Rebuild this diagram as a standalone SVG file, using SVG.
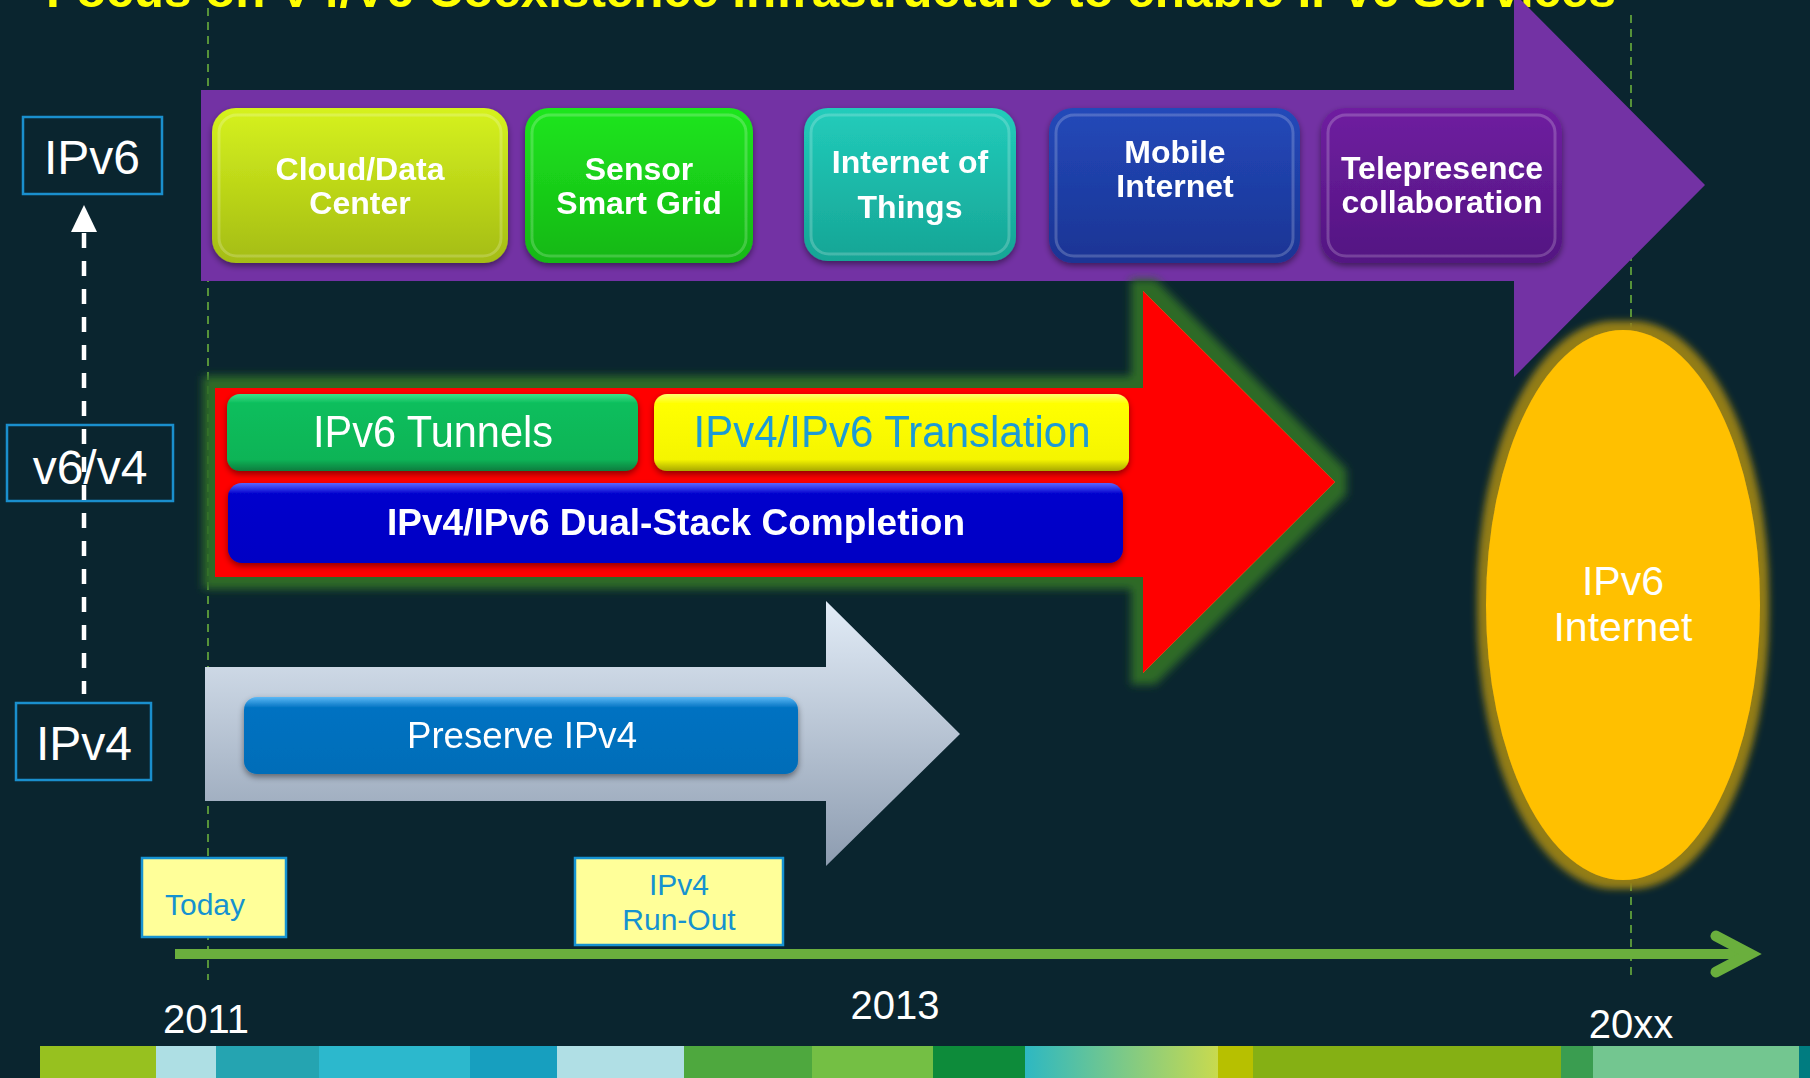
<svg xmlns="http://www.w3.org/2000/svg" width="1810" height="1078" viewBox="0 0 1810 1078">
  <defs>
    <style>
      .sans { font-family: "Liberation Sans", Arial, "DejaVu Sans", sans-serif; }
      .tag { fill: #ffffff; font-size: 32px; font-weight: bold; text-anchor: middle; }
      .lbl { fill: #ffffff; font-size: 48px; text-anchor: middle; }
      .year { fill: #ffffff; font-size: 40px; text-anchor: middle; }
      .note { fill: #1592d0; font-size: 30px; text-anchor: middle; }
      .frame { fill: none; stroke: #1a8fcd; stroke-width: 2.5; }
      .callout { fill: #ffff99; stroke: #1793d1; stroke-width: 2.5; }
      .guide { stroke: #6aaf3d; stroke-width: 1.6; stroke-dasharray: 8 6; fill: none; }
      .gloss { fill: none; stroke: #ffffff; stroke-opacity: 0.2; stroke-width: 3; }
    </style>

    <!-- fills for the rounded service tiles -->
    <linearGradient id="gCloud" x1="0" y1="0" x2="0" y2="1">
      <stop offset="0" stop-color="#d6f21f"/><stop offset="1" stop-color="#a4bc12"/>
    </linearGradient>
    <linearGradient id="gSensor" x1="0" y1="0" x2="0" y2="1">
      <stop offset="0" stop-color="#1fe61f"/><stop offset="1" stop-color="#13b713"/>
    </linearGradient>
    <linearGradient id="gIot" x1="0" y1="0" x2="0" y2="1">
      <stop offset="0" stop-color="#22ccbb"/><stop offset="1" stop-color="#16a595"/>
    </linearGradient>
    <linearGradient id="gMobile" x1="0" y1="0" x2="0" y2="1">
      <stop offset="0" stop-color="#2349b9"/><stop offset="1" stop-color="#1a3494"/>
    </linearGradient>
    <linearGradient id="gTele" x1="0" y1="0" x2="0" y2="1">
      <stop offset="0" stop-color="#6f1fa0"/><stop offset="1" stop-color="#531482"/>
    </linearGradient>
    <linearGradient id="gTunnel" x1="0" y1="0" x2="0" y2="1">
      <stop offset="0" stop-color="#3be08a"/><stop offset="0.12" stop-color="#0cbe5c"/>
      <stop offset="0.85" stop-color="#0bb457"/><stop offset="1" stop-color="#087c3e"/>
    </linearGradient>
    <linearGradient id="gTrans" x1="0" y1="0" x2="0" y2="1">
      <stop offset="0" stop-color="#ffff70"/><stop offset="0.12" stop-color="#ffff00"/>
      <stop offset="0.85" stop-color="#f5f500"/><stop offset="1" stop-color="#a8a800"/>
    </linearGradient>
    <linearGradient id="gDual" x1="0" y1="0" x2="0" y2="1">
      <stop offset="0" stop-color="#5b66ff"/><stop offset="0.14" stop-color="#0000cc"/>
      <stop offset="1" stop-color="#0000c4"/>
    </linearGradient>
    <linearGradient id="gPreserve" x1="0" y1="0" x2="0" y2="1">
      <stop offset="0" stop-color="#5cb8f5"/><stop offset="0.14" stop-color="#0072c2"/>
      <stop offset="1" stop-color="#006db8"/>
    </linearGradient>
    <linearGradient id="gSilver" gradientUnits="userSpaceOnUse" x1="0" y1="601" x2="0" y2="866">
      <stop offset="0" stop-color="#e2ecf7"/><stop offset="1" stop-color="#8d9cb0"/>
    </linearGradient>
    <linearGradient id="gBand" x1="0" y1="0" x2="1" y2="0">
      <stop offset="0" stop-color="#2db8c2"/><stop offset="1" stop-color="#c9da4e"/>
    </linearGradient>

    <filter id="glowGreen" x="-10%" y="-10%" width="120%" height="120%">
      <feMorphology in="SourceAlpha" operator="dilate" radius="12" result="fat"/>
      <feFlood flood-color="#2d6a25"/>
      <feComposite in2="fat" operator="in" result="halo"/>
      <feGaussianBlur in="halo" stdDeviation="4" result="soft"/>
      <feMerge><feMergeNode in="soft"/><feMergeNode in="SourceGraphic"/></feMerge>
    </filter>
    <filter id="glowGold" x="-20%" y="-10%" width="140%" height="120%">
      <feMorphology in="SourceAlpha" operator="dilate" radius="9" result="fat"/>
      <feFlood flood-color="#937d14"/>
      <feComposite in2="fat" operator="in" result="halo"/>
      <feGaussianBlur in="halo" stdDeviation="3.5" result="soft"/>
      <feMerge><feMergeNode in="soft"/><feMergeNode in="SourceGraphic"/></feMerge>
    </filter>
    <filter id="shade" x="-5%" y="-10%" width="110%" height="130%">
      <feDropShadow dx="0" dy="3" stdDeviation="3" flood-color="#000000" flood-opacity="0.45"/>
    </filter>
  </defs>

  <!-- backdrop -->
  <rect x="0" y="0" width="1810" height="1078" fill="#0a252f"/>

  <!-- heading, clipped by the top edge -->
  <text class="sans" x="46" y="7" font-size="48" font-weight="bold" fill="#ffff00" textLength="1570" lengthAdjust="spacingAndGlyphs">Focus on V4/V6 Coexistence Infrastructure to enable IPv6 Services</text>

  <!-- year guide lines -->
  <g id="guides">
    <line class="guide" x1="208" y1="8" x2="208" y2="980"/>
    <line class="guide" x1="1631" y1="15" x2="1631" y2="976"/>
  </g>

  <!-- colour strip along the bottom -->
  <g id="strip">
    <rect x="40" y="1046" width="117" height="32" fill="#97c11f"/>
    <rect x="156" y="1046" width="61" height="32" fill="#aedfe4"/>
    <rect x="216" y="1046" width="104" height="32" fill="#25a4b1"/>
    <rect x="319" y="1046" width="152" height="32" fill="#2cb8cd"/>
    <rect x="470" y="1046" width="88" height="32" fill="#179fbf"/>
    <rect x="557" y="1046" width="128" height="32" fill="#b0dfe5"/>
    <rect x="684" y="1046" width="129" height="32" fill="#4ea83e"/>
    <rect x="812" y="1046" width="122" height="32" fill="#74bf44"/>
    <rect x="933" y="1046" width="93" height="32" fill="#0d8b3a"/>
    <rect x="1025" y="1046" width="194" height="32" fill="url(#gBand)"/>
    <rect x="1218" y="1046" width="36" height="32" fill="#b7c000"/>
    <rect x="1253" y="1046" width="309" height="32" fill="#85b014"/>
    <rect x="1561" y="1046" width="33" height="32" fill="#3a9d50"/>
    <rect x="1593" y="1046" width="207" height="32" fill="#73c690"/>
    <rect x="1799" y="1046" width="11" height="32" fill="#007c80"/>
  </g>

  <!-- IPv6 services band -->
  <g id="band-ipv6">
    <polygon points="201,90 1514,90 1514,-7 1705,185 1514,377 1514,281 201,281" fill="#7332a4"/>
  </g>

  <g id="node-cloud" filter="url(#shade)">
    <rect x="212" y="108" width="296" height="155" rx="24" fill="url(#gCloud)"/>
    <rect x="219" y="115" width="282" height="141" rx="18" class="gloss"/>
    <text class="sans tag" x="360" y="180">Cloud/Data</text>
    <text class="sans tag" x="360" y="214">Center</text>
  </g>
  <g id="node-sensor" filter="url(#shade)">
    <rect x="525" y="108" width="228" height="155" rx="24" fill="url(#gSensor)"/>
    <rect x="532" y="115" width="214" height="141" rx="18" class="gloss"/>
    <text class="sans tag" x="639" y="180">Sensor</text>
    <text class="sans tag" x="639" y="214">Smart Grid</text>
  </g>
  <g id="node-iot" filter="url(#shade)">
    <rect x="804" y="108" width="212" height="153" rx="24" fill="url(#gIot)"/>
    <rect x="811" y="115" width="198" height="139" rx="18" class="gloss"/>
    <text class="sans tag" x="910" y="173">Internet of</text>
    <text class="sans tag" x="910" y="218">Things</text>
  </g>
  <g id="node-mobile" filter="url(#shade)">
    <rect x="1049" y="108" width="251" height="155" rx="24" fill="url(#gMobile)"/>
    <rect x="1056" y="115" width="237" height="141" rx="18" class="gloss"/>
    <text class="sans tag" x="1175" y="163">Mobile</text>
    <text class="sans tag" x="1175" y="197">Internet</text>
  </g>
  <g id="node-telepresence" filter="url(#shade)">
    <rect x="1321" y="108" width="241" height="155" rx="24" fill="url(#gTele)"/>
    <rect x="1328" y="115" width="227" height="141" rx="18" class="gloss"/>
    <text class="sans tag" x="1442" y="179">Telepresence</text>
    <text class="sans tag" x="1442" y="213">collaboration</text>
  </g>

  <!-- coexistence band -->
  <g id="band-coexist">
    <polygon points="215,388 1143,388 1143,291 1335,482 1143,673 1143,577 215,577" fill="#ff0000" filter="url(#glowGreen)"/>
  </g>
  <g id="node-tunnels" filter="url(#shade)">
    <rect x="227" y="394" width="411" height="77" rx="13" fill="url(#gTunnel)"/>
    <text class="sans" x="433" y="447" font-size="45" fill="#ffffff" text-anchor="middle" textLength="240" lengthAdjust="spacingAndGlyphs">IPv6 Tunnels</text>
  </g>
  <g id="node-translation" filter="url(#shade)">
    <rect x="654" y="394" width="475" height="77" rx="13" fill="url(#gTrans)"/>
    <text class="sans" x="892" y="447" font-size="45" fill="#1a9ad6" text-anchor="middle" textLength="397" lengthAdjust="spacingAndGlyphs">IPv4/IPv6 Translation</text>
  </g>
  <g id="node-dualstack" filter="url(#shade)">
    <rect x="228" y="483" width="895" height="80" rx="14" fill="url(#gDual)"/>
    <text class="sans" x="676" y="535" font-size="37" font-weight="bold" fill="#ffffff" text-anchor="middle" textLength="578" lengthAdjust="spacing">IPv4/IPv6 Dual-Stack Completion</text>
  </g>

  <!-- IPv4 band -->
  <g id="band-ipv4">
    <polygon points="205,667 826,667 826,601 960,734 826,866 826,801 205,801" fill="url(#gSilver)"/>
  </g>
  <g id="node-preserve" filter="url(#shade)">
    <rect x="244" y="697" width="554" height="77" rx="13" fill="url(#gPreserve)"/>
    <text class="sans" x="522" y="748" font-size="37" fill="#ffffff" text-anchor="middle" textLength="230" lengthAdjust="spacingAndGlyphs">Preserve IPv4</text>
  </g>

  <!-- target state -->
  <g id="node-ipv6-internet">
    <ellipse cx="1623" cy="605" rx="137" ry="275" fill="#ffc000" filter="url(#glowGold)"/>
    <text class="sans" x="1623" y="595" font-size="41" fill="#ffffff" text-anchor="middle">IPv6</text>
    <text class="sans" x="1623" y="641" font-size="41" fill="#ffffff" text-anchor="middle">Internet</text>
  </g>

  <!-- stage labels on the left -->
  <g id="node-stage-ipv6">
    <rect class="frame" x="23" y="117" width="139" height="77"/>
    <text class="sans lbl" x="92" y="174">IPv6</text>
  </g>
  <g id="node-stage-mixed">
    <rect class="frame" x="7" y="425" width="166" height="76"/>
    <text class="sans lbl" x="90" y="484">v6/v4</text>
  </g>
  <g id="node-stage-ipv4">
    <rect class="frame" x="16" y="703" width="135" height="77"/>
    <text class="sans lbl" x="84" y="760">IPv4</text>
  </g>

  <!-- milestones -->
  <g id="node-today">
    <rect class="callout" x="142" y="858" width="144" height="79"/>
    <text class="sans note" x="205" y="915">Today</text>
  </g>
  <g id="node-runout">
    <rect class="callout" x="575" y="858" width="208" height="87"/>
    <text class="sans note" x="679" y="895">IPv4</text>
    <text class="sans note" x="679" y="930">Run-Out</text>
  </g>

  <g id="years">
    <text class="sans year" x="206" y="1033">2011</text>
    <text class="sans year" x="895" y="1019">2013</text>
    <text class="sans year" x="1631" y="1038">20xx</text>
  </g>

  <!-- connectors: migration path and timeline -->
  <g id="connectors">
    <line x1="84" y1="233" x2="84" y2="694" stroke="#ffffff" stroke-width="4.5" stroke-dasharray="15 13"/>
    <polygon points="84,205 71,232 97,232" fill="#ffffff"/>
    <line x1="175" y1="954" x2="1745" y2="954" stroke="#6aaf3d" stroke-width="10"/>
    <polyline points="1716,936 1750,954 1716,972" fill="none" stroke="#6aaf3d" stroke-width="11" stroke-linecap="round" stroke-linejoin="miter"/>
  </g>
</svg>
